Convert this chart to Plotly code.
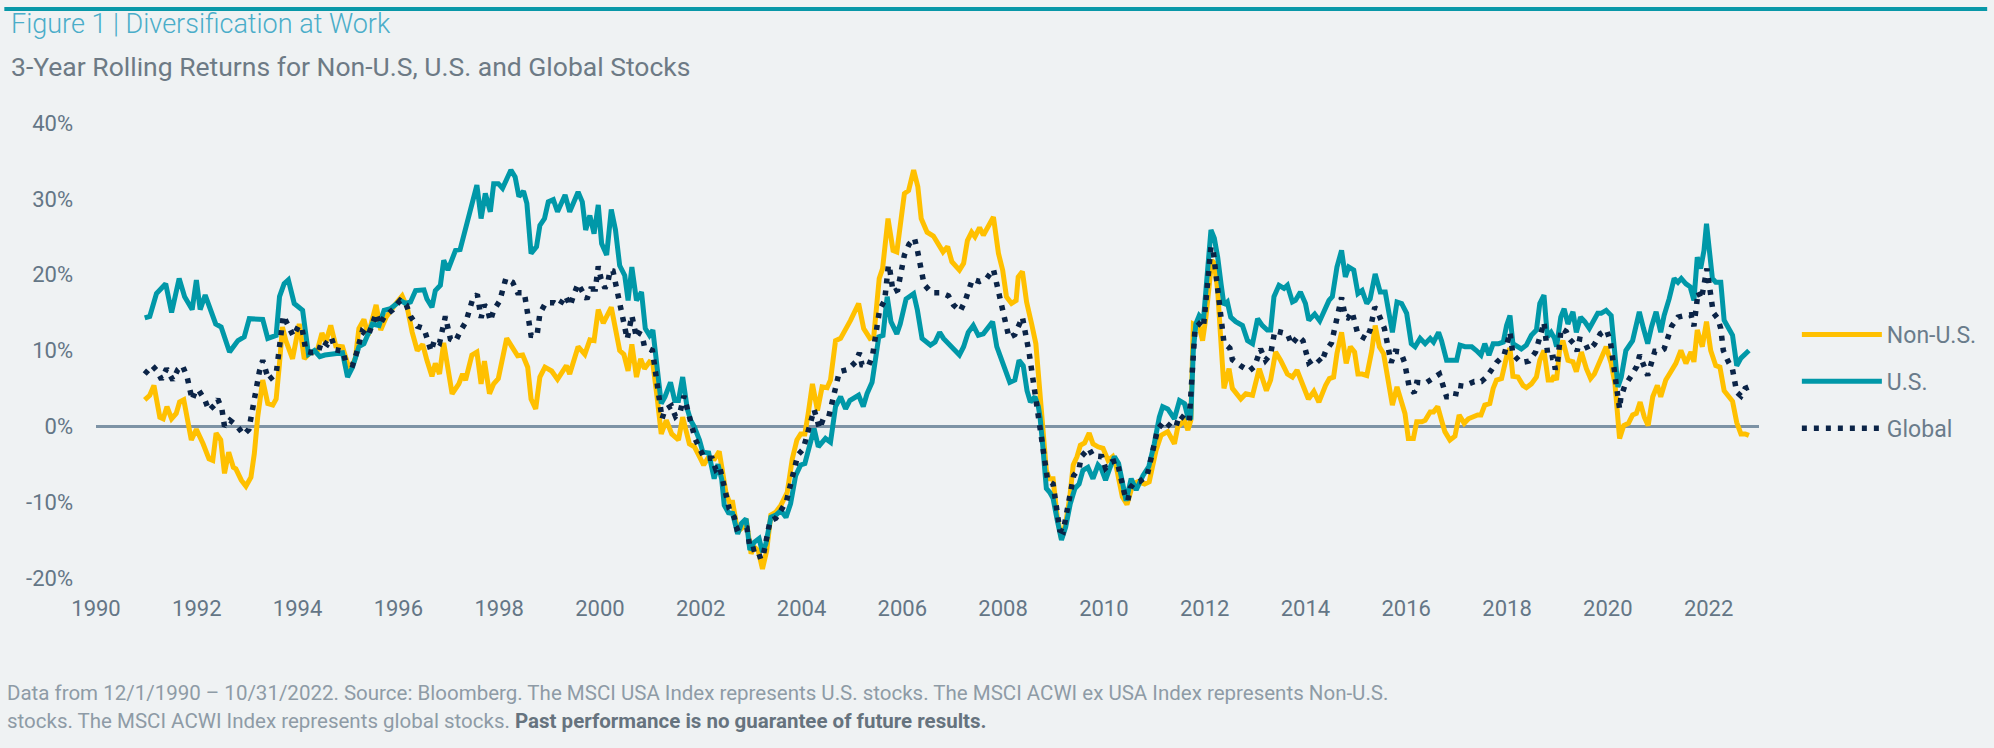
import plotly.graph_objects as go

# ---------------- data (months since Jan 1990, 3-yr rolling return %) ----------------
nonus = [(11.6,3.5),(12.8,4.1),(13.8,5.4),(15.2,1.2),(16.0,1.0),(16.9,2.6),(18.0,1.0),(19.1,1.7),(19.9,3.2),(20.9,3.5),
 (22.7,-1.8),(23.9,-0.4),(25.5,-2.3),(26.9,-4.3),(27.8,-4.5),(28.6,-0.9),(29.7,-1.8),(30.6,-6.2),(31.6,-3.4),(32.7,-5.4),
 (33.3,-5.6),(34.6,-7.1),(35.7,-7.9),(36.9,-6.7),(37.7,-3.6),(38.5,1.2),(39.7,6.1),(40.9,3.0),(42.1,2.8),(42.9,3.6),
 (43.7,8.3),(44.4,13.1),(45.2,11.3),(46.8,8.9),(48.4,13.5),(49.6,8.9),(50.8,9.6),(52.0,9.8),(52.7,10.0),(53.8,12.3),
 (54.7,11.1),(55.9,13.3),(57.1,10.6),(58.7,10.5),(59.9,8.3),(60.7,7.6),(61.8,9.1),(62.6,12.9),(63.8,14.1),(64.8,12.0),
 (66.7,16.0),(67.8,12.7),(69.1,14.4),(71.7,16.4),(72.9,17.2),(74.1,15.7),(75.3,12.4),(76.5,10.0),(77.8,10.8),(78.8,8.7),
 (80.0,6.6),(80.8,8.3),(81.8,6.9),(82.8,11.0),(84.8,4.3),(86.4,5.6),(87.3,6.9),(88.0,6.1),(89.5,9.4),(90.7,9.8),
 (91.7,5.6),(92.5,8.6),(93.7,4.3),(94.7,5.6),(95.8,6.3),(97.8,11.6),(99.2,10.4),(100.4,9.3),(101.6,9.4),(102.8,7.8),
 (103.6,3.6),(104.7,2.3),(105.7,6.5),(106.9,7.8),(108.5,7.3),(109.9,6.2),(112.0,8.0),(112.8,6.9),(114.8,10.5),(116.4,9.5),
 (117.6,11.4),(118.6,11.3),(119.6,15.4),(120.8,13.6),(122.7,15.7),(123.9,11.8),(124.7,10.0),(125.7,9.5),(126.7,7.3),(127.6,10.8),
 (128.7,6.5),(129.7,8.9),(130.6,7.6),(131.8,8.5),(132.6,8.3),(133.6,3.9),(134.6,-1.0),(135.8,0.8),(137.1,-1.0),(138.7,-1.8),
 (139.7,1.2),(141.3,-2.3),(142.5,-2.7),(143.7,-4.0),(144.7,-5.1),(145.7,-4.2),(147.3,-4.3),(148.4,-3.3),(149.3,-6.0),(150.0,-8.7),
 (150.8,-10.0),(151.6,-10.0),(152.8,-13.9),(154.0,-13.3),(154.8,-12.2),(156.0,-16.8),(156.7,-15.9),(157.7,-16.4),(158.7,-18.8),(159.7,-16.4),
 (160.7,-11.7),(161.9,-11.3),(163.1,-10.4),(164.6,-8.7),(165.8,-4.3),(166.9,-1.8),(167.8,-1.0),(168.8,-1.0),(169.6,1.7),(170.6,5.6),
 (171.8,2.1),(172.9,5.2),(174.1,5.1),(174.9,6.1),(176.1,11.3),(177.3,11.6),(179.7,14.0),(181.6,16.2),(182.8,12.9),(184.3,11.6),
 (185.2,11.8),(186.0,16.6),(186.5,19.5),(187.3,20.8),(188.6,27.4),(189.8,23.2),(190.7,23.0),(192.5,30.7),(193.5,31.1),(194.7,33.8),
 (195.7,31.6),(196.5,27.4),(197.9,25.6),(199.4,25.1),(200.6,24.1),(201.7,23.0),(202.8,23.7),(203.8,21.7),(205.6,20.6),(206.6,21.5),
 (207.5,24.5),(208.5,25.6),(209.3,25.0),(210.4,26.2),(211.3,25.2),(213.7,27.6),(214.9,22.8),(215.9,20.6),(216.8,17.1),(218.0,16.2),
 (219.1,16.6),(219.6,19.7),(220.6,20.4),(221.6,16.4),(222.8,13.5),(223.8,10.9),(224.4,6.9),(224.8,4.3),(225.2,1.2),(225.7,-2.7),
 (226.3,-5.8),(227.0,-6.9),(227.9,-6.9),(228.9,-12.0),(229.9,-14.8),(230.9,-12.8),(231.9,-9.3),(232.7,-5.1),(233.6,-4.0),(234.4,-2.5),
 (235.4,-2.2),(236.5,-0.9),(237.4,-2.3),(238.6,-2.7),(239.8,-2.9),(241.0,-4.5),(242.1,-4.0),(242.9,-5.2),(244.4,-9.3),(245.5,-10.3),
 (246.9,-7.6),(248.1,-7.3),(249.7,-7.6),(250.8,-7.3),(252.4,-3.2),(253.6,-1.2),(255.2,-0.7),(256.8,-2.3),(257.6,-0.1),(259.2,0.8),
 (260.0,-0.5),(260.7,0.8),(261.3,13.5),(262.7,13.1),(263.5,11.3),(264.3,14.4),(265.1,18.8),(265.7,21.9),(266.3,21.5),(267.1,17.9),
 (267.9,10.9),(268.6,5.0),(269.8,7.6),(270.6,5.0),(272.6,3.6),(273.8,4.3),(275.4,4.1),(277.0,7.6),(278.7,4.7),(279.7,6.1),
 (280.9,9.8),(282.1,8.7),(283.7,6.9),(284.9,6.5),(286.0,7.4),(287.2,5.6),(288.7,3.6),(290.0,4.6),(291.2,3.2),(292.8,5.4),
 (293.7,6.3),(294.7,6.5),(295.5,9.6),(296.6,12.4),(297.7,8.3),(298.7,10.5),(299.7,9.8),(300.5,6.9),(301.5,6.9),(302.6,6.7),
 (303.8,10.0),(304.6,13.3),(305.6,10.5),(306.6,9.6),(307.8,5.6),(308.7,2.8),(309.8,5.2),(310.9,3.4),(311.7,1.7),(312.5,-1.6),
 (313.7,-1.6),(314.5,0.6),(315.7,0.6),(316.5,0.8),(317.7,1.9),(318.5,1.9),(319.5,2.6),(320.4,0.8),(321.2,-0.7),(322.4,-1.8),
 (323.6,-1.3),(324.6,1.5),(325.8,0.4),(326.8,1.0),(328.0,1.3),(329.0,1.5),(329.8,1.5),(330.7,2.8),(331.9,3.0),(332.7,5.0),
 (333.5,6.1),(334.7,6.3),(335.9,9.2),(336.7,10.3),(337.4,6.6),(338.6,6.5),(339.8,5.4),(340.6,5.1),(341.8,5.6),(343.0,6.5),
 (343.8,8.7),(344.8,10.0),(345.8,6.1),(346.7,6.1),(347.2,6.7),(347.8,6.1),(348.5,10.0),(349.3,11.3),(350.5,8.7),(351.7,8.5),
 (352.5,7.2),(353.7,9.8),(354.9,7.6),(355.9,6.3),(356.8,6.9),(358.4,9.1),(359.6,10.5),(360.8,8.3),(361.7,5.6),(362.8,-1.6),
 (363.8,0.1),(364.9,0.4),(365.9,1.5),(366.8,1.7),(367.7,3.2),(368.7,1.2),(369.6,0.1),(370.7,3.9),(371.8,5.4),(372.6,3.9),
 (373.8,6.1),(375.0,7.2),(376.2,8.3),(377.4,10.0),(378.6,8.3),(379.8,9.8),(380.5,8.5),(381.3,12.7),(382.5,10.5),(383.5,13.8),
 (384.5,10.0),(385.7,8.0),(386.7,7.8),(387.7,4.7),(388.7,4.0),(389.7,3.3),(390.7,0.5),(391.7,-1.0),(392.7,-1.0),(393.6,-1.2)]

us = [(11.6,14.3),(12.8,14.5),(14.4,17.5),(16.0,18.4),(16.6,18.8),(18.0,15.0),(19.8,19.5),(21.1,17.1),(22.9,15.4),(23.9,19.3),
 (24.8,15.4),(26.0,17.3),(27.0,15.7),(28.5,13.5),(29.8,13.1),(31.8,9.8),(33.8,11.3),(35.3,11.8),(36.5,14.2),(39.7,14.1),
 (40.9,11.6),(42.9,12.0),(43.7,17.1),(44.8,18.8),(45.8,19.3),(47.2,16.2),(49.2,15.3),(50.6,9.5),(52.0,10.0),(53.3,9.2),
 (54.5,9.4),(56.3,9.6),(58.7,9.7),(59.9,6.5),(61.1,7.8),(62.6,10.5),(63.8,10.9),(65.8,13.5),(67.4,13.3),(68.6,15.3),
 (70.1,15.5),(72.5,16.6),(73.7,16.2),(74.9,16.4),(76.1,17.9),(78.1,18.0),(78.8,16.8),(80.0,15.7),(80.8,17.9),(82.0,18.6),
 (82.8,21.9),(83.8,20.6),(85.6,23.2),(86.7,23.3),(88.3,26.7),(89.5,29.8),(90.7,31.8),(91.7,27.4),(92.7,30.7),(93.9,28.3),
 (94.7,32.0),(95.8,32.0),(96.8,31.4),(98.8,33.8),(99.8,32.9),(100.7,30.3),(101.8,31.0),(102.6,29.4),(103.6,22.8),(104.9,23.7),
 (105.7,26.5),(106.8,27.4),(107.7,29.6),(108.9,29.9),(109.9,28.3),(111.7,30.5),(112.8,28.3),(114.8,30.9),(115.8,29.6),(116.6,25.9),
 (117.6,27.8),(118.6,25.4),(119.6,29.2),(120.4,24.1),(121.6,22.6),(122.7,28.6),(123.7,25.9),(124.7,21.2),(125.9,19.9),(126.7,16.6),
 (127.6,21.0),(128.7,16.6),(129.9,17.7),(130.8,12.9),(131.8,12.0),(132.6,12.7),(133.6,7.8),(134.6,3.0),(135.5,3.9),(136.8,5.8),
 (137.8,3.4),(138.7,3.4),(139.7,6.5),(140.8,2.3),(141.6,0.8),(142.5,-0.1),(143.7,-1.8),(144.5,-3.4),(145.9,-3.5),(147.2,-6.9),
 (148.1,-5.0),(149.0,-7.0),(149.6,-10.4),(150.6,-11.4),(151.6,-11.5),(152.8,-14.2),(153.7,-12.8),(154.8,-12.2),(155.7,-16.3),(156.7,-15.3),
 (157.9,-14.8),(158.7,-16.6),(159.5,-15.5),(160.7,-12.0),(161.9,-11.7),(163.1,-11.1),(164.3,-12.0),(165.4,-10.2),(166.6,-6.5),(167.8,-5.1),
 (168.8,-4.9),(169.8,-2.5),(171.0,-0.3),(172.0,-2.7),(173.7,-1.6),(174.9,-2.1),(176.1,2.6),(177.3,3.9),(178.5,2.3),(179.5,3.4),
 (181.6,4.1),(182.7,2.6),(183.6,4.3),(184.8,5.8),(185.6,8.7),(186.4,11.8),(187.4,12.0),(188.4,17.1),(189.3,13.8),(190.7,12.2),
 (191.5,13.5),(192.9,16.8),(194.7,17.5),(195.6,15.3),(196.7,11.6),(198.7,10.7),(199.8,11.1),(200.9,12.4),(201.8,11.6),(203.8,10.5),
 (205.6,9.4),(206.6,10.5),(207.7,12.4),(208.9,13.3),(210.1,12.0),(211.3,12.2),(213.5,13.8),(214.5,10.5),(216.0,8.3),(217.6,5.8),
 (218.8,6.1),(219.8,8.7),(220.8,8.0),(221.7,4.7),(222.5,3.2),(223.6,3.9),(224.4,2.6),(224.8,1.2),(225.4,-2.3),(226.0,-5.8),
 (226.3,-8.2),(227.1,-8.7),(227.9,-9.5),(228.9,-12.4),(229.9,-15.0),(230.9,-13.3),(232.0,-10.2),(233.1,-8.2),(234.1,-7.6),(235.0,-5.8),
 (236.2,-5.4),(237.4,-6.9),(238.6,-5.1),(239.4,-5.6),(240.4,-7.1),(241.5,-5.4),(242.5,-4.0),(243.5,-4.9),(244.3,-7.1),(245.3,-9.8),
 (246.5,-6.9),(247.7,-8.4),(249.3,-6.5),(250.7,-5.3),(252.0,-2.3),(253.2,1.2),(254.0,2.6),(255.2,2.3),(256.8,1.0),(258.0,3.4),
 (259.2,3.0),(260.0,1.2),(260.7,1.2),(261.3,10.0),(261.9,13.5),(262.7,14.6),(263.7,14.0),(264.3,17.5),(264.9,21.9),(265.5,25.9),
 (266.3,24.8),(267.1,22.3),(267.9,18.8),(268.6,16.0),(269.4,16.4),(270.2,14.4),(271.4,13.8),(273.0,13.3),(274.2,11.3),(275.4,10.9),
 (276.6,14.2),(277.7,13.3),(278.9,12.7),(279.7,12.7),(280.5,17.1),(281.7,18.6),(282.9,18.2),(283.7,18.6),(284.9,16.4),(285.6,16.6),
 (286.8,17.7),(288.0,16.2),(288.8,14.0),(290.2,14.8),(291.4,13.9),(293.6,16.6),(294.4,17.1),(295.5,21.0),(296.6,23.2),(297.5,19.7),
 (298.3,21.0),(299.5,20.6),(300.5,17.5),(301.5,17.9),(302.6,16.2),(303.4,16.8),(304.6,20.1),(305.8,17.7),(307.0,17.7),(308.2,14.4),
 (308.7,12.4),(309.8,16.4),(310.9,16.2),(312.1,14.9),(313.2,10.9),(314.1,10.5),(315.3,11.6),(316.5,10.9),(317.7,11.6),(318.5,11.1),
 (319.7,12.4),(320.4,11.3),(321.6,8.7),(324.0,8.7),(324.8,10.7),(326.0,10.5),(327.6,10.5),(328.7,10.0),(329.8,9.4),(330.7,10.9),
 (331.7,9.4),(332.7,10.9),(334.0,10.9),(335.1,11.1),(335.9,13.3),(336.7,14.6),(337.4,10.9),(339.4,10.2),(340.6,10.7),(341.8,12.0),
 (343.0,12.7),(343.8,16.2),(344.8,17.3),(345.6,11.8),(346.5,12.4),(347.3,11.6),(347.8,10.5),(348.8,14.4),(349.6,15.5),(350.5,13.5),
 (351.7,15.1),(352.5,12.4),(353.5,14.4),(354.5,13.8),(355.6,12.9),(357.6,14.9),(358.4,14.9),(359.6,15.3),(360.8,14.6),(361.6,10.0),
 (362.4,5.2),(363.2,6.5),(364.3,10.0),(365.9,11.3),(367.5,15.1),(368.5,12.9),(369.5,10.9),(370.4,13.1),(371.5,15.1),(372.6,12.4),
 (373.4,14.6),(374.6,16.8),(375.8,19.5),(376.7,19.0),(377.5,19.5),(378.6,18.8),(379.6,18.4),(380.5,16.6),(381.3,22.3),(382.1,20.8),
 (382.9,23.2),(383.5,26.7),(384.1,23.2),(384.9,19.5),(385.7,19.0),(386.9,19.0),(387.7,14.0),(388.7,13.0),(389.7,12.0),(390.7,8.0),
 (391.7,9.0),(393.6,10.0)]

glob = [(11.6,6.9),(13.4,8.0),(14.4,7.4),(15.6,6.2),(16.8,7.6),(18.3,6.1),(19.5,7.5),(20.6,8.0),(21.7,6.5),(22.9,3.5),
 (23.8,4.8),(24.5,4.7),(25.9,3.5),(26.9,2.1),(28.2,2.8),(29.0,3.6),(30.0,2.2),(30.6,0.0),(31.9,0.8),(33.5,0.1),
 (35.2,-1.1),(36.4,-0.4),(38.9,7.2),(39.7,8.7),(41.1,6.1),(42.9,6.9),(44.6,14.6),(46.0,12.9),(47.0,11.9),(48.2,13.2),
 (49.0,13.1),(50.0,9.9),(51.6,9.7),(53.0,9.9),(53.8,11.3),(55.1,10.8),(56.1,11.6),(57.0,10.1),(58.8,9.9),(59.5,8.4),
 (61.1,8.1),(62.0,9.6),(63.4,12.5),(64.8,11.9),(65.8,13.3),(66.7,14.9),(67.6,13.4),(68.6,14.4),(70.7,15.4),(72.4,16.6),
 (73.9,16.0),(74.9,14.5),(76.5,13.2),(78.1,12.9),(79.8,9.9),(80.6,11.4),(81.8,11.0),(83.2,14.5),(84.4,11.5),(85.6,11.2),
 (86.8,12.6),(88.1,13.8),(89.7,16.8),(90.8,17.4),(91.7,14.3),(92.5,16.0),(93.2,15.5),(93.9,13.9),(94.7,15.3),(96.1,16.5),
 (97.6,19.5),(99.2,19.0),(100.4,17.6),(102.0,17.6),(103.6,12.0),(105.0,11.9),(105.7,14.9),(107.1,16.3),(109.1,16.3),(110.3,15.9),
 (111.8,17.2),(112.9,15.9),(113.8,17.4),(114.8,18.8),(116.0,17.6),(116.9,16.8),(117.8,18.1),(118.9,18.1),(119.6,21.1),(120.2,19.6),
 (121.2,18.2),(121.9,19.0),(122.4,20.6),(123.1,20.5),(126.5,11.5),(127.6,14.6),(128.7,11.7),(129.3,12.3),(130.0,12.1),(130.6,10.5),
 (132.5,10.0),(134.8,1.0),(135.5,2.2),(137.0,2.7),(138.0,1.3),(139.1,1.9),(140.0,4.0),(142.7,-1.7),(143.9,-3.1),(144.9,-4.2),
 (146.7,-4.2),(147.6,-5.7),(148.5,-5.3),(150.8,-10.9),(152.0,-12.0),(152.6,-13.5),(153.8,-13.2),(155.0,-13.4),(155.8,-16.3),(157.4,-16.1),
 (158.3,-17.5),(158.9,-17.0),(160.5,-12.5),(161.9,-12.1),(163.2,-11.0),(164.4,-9.9),(167.1,-3.8),(168.4,-3.0),(171.0,2.2),(172.3,-0.3),
 (173.2,1.0),(174.5,1.3),(177.0,7.2),(179.1,7.5),(180.9,8.5),(181.8,9.7),(182.4,8.1),(183.9,7.9),(184.9,9.3),(186.6,15.4),
 (187.8,16.6),(188.7,21.3),(189.0,20.8),(189.8,17.7),(190.9,18.0),(192.5,22.6),(193.6,24.0),(194.9,24.8),(195.6,23.2),(197.2,18.7),
 (199.0,17.6),(201.3,17.6),(203.0,17.2),(204.2,16.0),(205.8,15.2),(207.0,16.6),(208.7,19.4),(210.4,19.1),(212.1,19.5),(213.7,20.7),
 (217.4,11.7),(218.8,12.1),(220.6,14.4),(222.2,9.7),(226.6,-7.1),(227.9,-7.6),(229.5,-13.7),(230.3,-13.9),(232.8,-6.5),(234.1,-5.6),
 (234.6,-4.0),(236.4,-2.9),(237.4,-3.9),(239.5,-4.0),(240.4,-5.5),(241.8,-4.7),(243.1,-4.5),(245.0,-9.1),(245.7,-9.8),(246.3,-8.1),
 (247.3,-7.4),(248.5,-7.3),(250.3,-6.5),(252.8,-0.4),(254.4,0.7),(256.2,-0.2),(257.2,0.0),(258.0,1.5),(259.2,1.0),(260.3,0.6),
 (261.7,12.9),(262.7,13.5),(263.7,13.0),(265.5,23.7),(266.0,23.3),(268.6,11.0),(270.0,10.3),(270.6,8.8),(272.8,7.9),(274.6,7.3),
 (275.9,7.9),(277.3,10.2),(278.5,8.7),(279.7,9.5),(280.7,12.6),(282.2,12.4),(283.7,12.2),(284.7,10.8),(286.3,11.9),(287.4,11.3),
 (288.8,8.4),(290.6,9.1),(291.8,8.4),(292.8,9.9),(294.2,11.0),(296.6,17.0),(297.5,14.4),(298.1,14.3),(299.1,15.1),(300.5,12.1),
 (302.5,11.5),(303.4,12.7),(304.5,15.7),(305.0,15.4),(306.8,12.9),(308.4,8.4),(309.4,9.9),(310.7,9.8),(311.6,8.4),(312.7,5.2),
 (313.9,4.4),(314.5,5.8),(316.6,5.7),(318.5,6.4),(319.9,6.9),(321.6,3.9),(323.7,3.9),(324.2,5.4),(325.6,5.3),(328.2,5.9),
 (329.9,5.9),(331.1,6.5),(332.1,7.3),(333.5,8.4),(335.3,9.4),(335.9,10.9),(336.7,12.4),(337.4,9.5),(339.3,8.4),(341.2,8.6),
 (342.8,9.8),(344.8,13.7),(345.8,9.0),(347.0,9.1),(347.5,7.5),(348.0,8.3),(348.9,12.9),(350.1,12.5),(350.9,11.5),(351.9,10.9),
 (352.7,9.9),(353.3,11.5),(354.2,11.4),(355.4,10.0),(356.8,10.8),(358.2,12.2),(359.7,12.7),(360.6,11.2),(362.8,2.3),(363.1,3.8),
 (364.0,5.3),(365.5,6.6),(366.9,7.9),(367.6,9.4),(368.5,8.1),(369.5,6.7),(370.4,8.4),(371.2,9.9),(372.6,9.9),(373.4,10.2),
 (375.2,13.2),(376.7,14.4),(378.3,14.6),(379.8,14.7),(380.5,13.2),(381.5,17.7),(382.3,16.8),(383.6,20.8),(385.1,15.0),(386.2,14.2),
 (386.9,12.9),(387.5,10.0),(388.7,8.5),(389.7,7.5),(390.7,4.5),(391.7,4.0),(392.7,5.0),(393.6,5.2)]

series_names = ["Non-U.S.", "U.S.", "Global"]
year_ticks = list(range(1990, 2023, 2))
pct_ticks = [-20, -10, 0, 10, 20, 30, 40]

# ---------------- styling ----------------
W, H = 1994, 748
ML, MR, MT, MB = 96, 229, 123, 170
BG = "#EFF2F3"
C_NONUS, C_US, C_GLOB = "#FFC000", "#0098A8", "#0B2447"
AX_TXT = "#647686"
FONT = "Roboto"

def px_x(px):
    return (px - ML) / (W - ML - MR)

def px_y(py):
    return 1 - (py - MT) / (H - MT - MB)

def to_year(months):
    return [1990 + m / 12 for m in months]

fig = go.Figure()
for name, data, color, dash, width in [
    (series_names[0], nonus, C_NONUS, "solid", 5),
    (series_names[1], us, C_US, "solid", 5),
    (series_names[2], glob, C_GLOB, "5px,7px", 5.5),
]:
    months, vals = zip(*data)
    fig.add_trace(go.Scatter(
        x=to_year(months), y=list(vals), mode="lines", name=name,
        legendgroup=name,
        line=dict(color=color, width=width, dash=dash),
        hoverinfo="skip",
    ))

fig.update_layout(
    width=W, height=H,
    margin=dict(l=ML, r=MR, t=MT, b=MB),
    paper_bgcolor=BG, plot_bgcolor=BG,
    font=dict(family=FONT, color=AX_TXT, size=22),
    showlegend=True,
    legend=dict(
        x=px_x(1803), y=px_y(313), xanchor="left", yanchor="top",
        bgcolor="rgba(0,0,0,0)", font=dict(size=23, color="#6A7C8B"),
        itemwidth=80, tracegroupgap=14, traceorder="grouped",
    ),
    xaxis=dict(
        range=[1990, 2023], tickvals=year_ticks, ticktext=[str(y) for y in year_ticks],
        showgrid=False, zeroline=False, showline=False, ticks="",
        tickfont=dict(size=22, color=AX_TXT), ticklabelstandoff=15,
    ),
    yaxis=dict(
        range=[-20, 40], tickvals=pct_ticks, ticktext=[f"{v}%" for v in pct_ticks],
        showgrid=False, zeroline=True, zerolinecolor="#7D93A5", zerolinewidth=3,
        showline=False, ticks="", tickfont=dict(size=22, color=AX_TXT),
        ticklabelstandoff=22,
    ),
    shapes=[dict(type="line", xref="paper", yref="paper",
                 x0=px_x(4), x1=px_x(W), y0=px_y(9), y1=px_y(9),
                 line=dict(color="#0898A8", width=4))],
    annotations=[
        dict(text="Figure 1 | Diversification at Work", xref="paper", yref="paper",
             x=px_x(9), y=px_y(24), xanchor="left", yanchor="middle", showarrow=False,
             font=dict(family=FONT, size=27, color="#4AADC9", weight=300)),
        dict(text="3-Year Rolling Returns for Non-U.S, U.S. and Global Stocks", xref="paper", yref="paper",
             x=px_x(9), y=px_y(66), xanchor="left", yanchor="middle", showarrow=False,
             font=dict(family=FONT, size=26.5, color="#6D7A85")),
        dict(text="Data from 12/1/1990 – 10/31/2022. Source: Bloomberg. The MSCI USA Index represents U.S. stocks. "
                  "The MSCI ACWI ex USA Index represents Non-U.S.",
             xref="paper", yref="paper", x=px_x(5), y=px_y(693), xanchor="left", yanchor="middle",
             showarrow=False, font=dict(family=FONT, size=20.5, color="#8E9BA6")),
        dict(text="stocks. The MSCI ACWI Index represents global stocks. "
                  "<span style='color:#66737E'><b>Past performance is no guarantee of future results.</b></span>",
             xref="paper", yref="paper", x=px_x(5), y=px_y(721), xanchor="left", yanchor="middle",
             showarrow=False, font=dict(family=FONT, size=20.5, color="#8E9BA6")),
    ],
)

fig.write_html("out.html")
